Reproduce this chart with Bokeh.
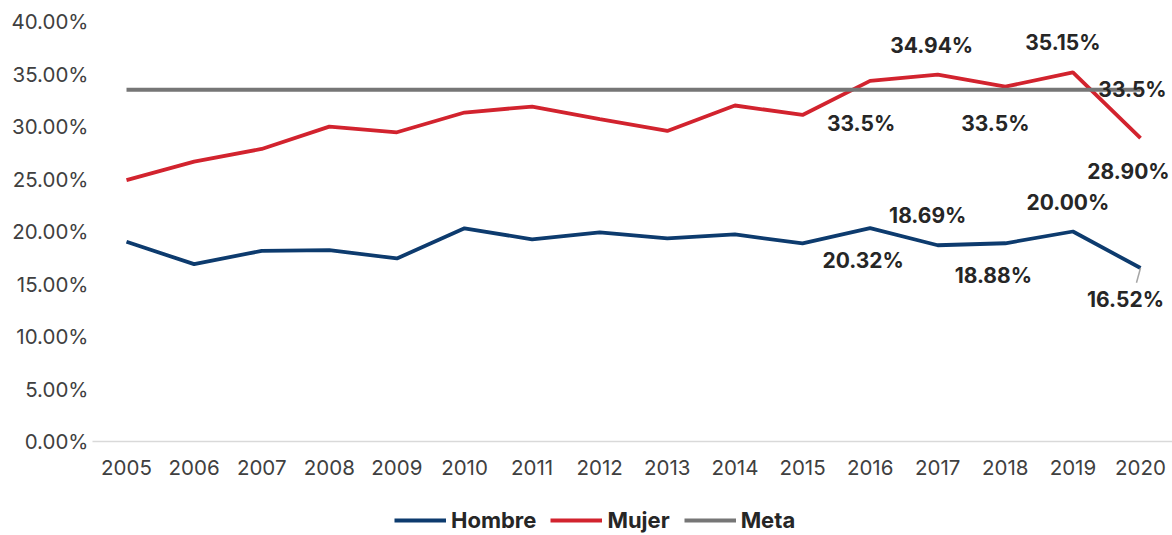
from bokeh.plotting import figure
from bokeh.layouts import column
from bokeh.models import (Range1d, Legend, LegendItem, LabelSet, ColumnDataSource,
                          NumeralTickFormatter, FixedTicker)
from bokeh.core.properties import value
from bokeh.embed import file_html
from bokeh.resources import INLINE

years = list(range(2005, 2021))
hombre = [19.02, 16.89, 18.16, 18.23, 17.43, 20.30, 19.25, 19.91, 19.34, 19.72, 18.86,
          20.32, 18.69, 18.88, 20.00, 16.52]
mujer = [24.90, 26.65, 27.86, 29.99, 29.45, 31.33, 31.90, 30.70, 29.58, 32.00, 31.10,
         34.35, 34.94, 33.80, 35.15, 28.90]
meta = [33.5] * 16
y_ticks = [0, 5, 10, 15, 20, 25, 30, 35, 40]
series_names = ["Hombre", "Mujer", "Meta"]

# data labels (text as printed on the chart)
mujer_label_years = [2016, 2017, 2018, 2019, 2020]
mujer_label_text = ["33.5%", "34.94%", "33.5%", "35.15%", "28.90%"]
hombre_label_years = [2016, 2017, 2018, 2019, 2020]
hombre_label_text = ["20.32%", "18.69%", "18.88%", "20.00%", "16.52%"]
meta_label_years = [2020]
meta_label_text = ["33.5%"]

C_H = "#0d3b6e"
C_M = "#d2232e"
C_G = "#767676"
COLORS = [C_H, C_M, C_G]
FONT = "Inter"

p = figure(width=1172, height=505, output_backend="svg", toolbar_location=None,
           x_range=Range1d(2004.497, 2020.473), y_range=Range1d(0, 0.40),
           min_border_left=92, min_border_right=0, min_border_top=21, min_border_bottom=64)
p.outline_line_color = None
p.xgrid.visible = False
p.ygrid.visible = False

frac = lambda a: [v / 100 for v in a]

p.line(years, frac(hombre), line_color=C_H, line_width=3.8)
p.line(years, frac(mujer), line_color=C_M, line_width=3.8)
p.line(years, frac(meta), line_color=C_G, line_width=3.8)

# leader line for last Hombre label
p.segment(x0=[years[-1]], y0=[hombre[-1] / 100], x1=[years[-1] - 0.06],
          y1=[hombre[-1] / 100 - 0.014], line_color="#a6a6a6", line_width=1.5)

def idx(ys):
    return [years.index(y) for y in ys]

def add_labels(lyears, texts, series, xoff, yoff):
    src = ColumnDataSource(dict(x=lyears, y=[series[i] / 100 for i in idx(lyears)],
                                t=texts, xo=xoff, yo=yoff))
    p.add_layout(LabelSet(x="x", y="y", text="t", source=src, x_offset="xo", y_offset="yo",
                          text_align="center", text_baseline="middle",
                          text_font=value(FONT), text_font_size="21px", text_color="#262626",
                          text_font_style="bold"))

add_labels(mujer_label_years, mujer_label_text, mujer,
           [-9, -6, -10, -10, -12], [-43, 29, -37, 30, -33])
add_labels(hombre_label_years, hombre_label_text, hombre,
           [-7, -10, -12, -5, -15], [-32, 30, -32, 29, -31])
add_labels(meta_label_years, meta_label_text, meta, [-8], [0])

p.yaxis.ticker = FixedTicker(ticks=[t / 100 for t in y_ticks])
p.yaxis.formatter = NumeralTickFormatter(format="0.00%")
p.yaxis.axis_line_color = None
p.yaxis.major_tick_line_color = None
p.yaxis.minor_tick_line_color = None
p.yaxis.major_tick_out = 0
p.yaxis.minor_tick_out = 0
p.yaxis.major_label_standoff = 4
p.yaxis.major_label_text_font = FONT
p.yaxis.major_label_text_font_size = "20.5px"
p.yaxis.major_label_text_color = "#404040"

p.xaxis.ticker = FixedTicker(ticks=years)
p.xaxis.axis_line_color = "#d9d9d9"
p.xaxis.axis_line_width = 1.5
p.xaxis.major_tick_line_color = None
p.xaxis.minor_tick_line_color = None
p.xaxis.major_label_standoff = 12
p.xaxis.major_label_text_font = FONT
p.xaxis.major_label_text_font_size = "20.5px"
p.xaxis.major_label_text_color = "#404040"

# legend strip below the chart (its frame is aligned with the chart frame)
lg = figure(width=1172, height=30, output_backend="svg", toolbar_location=None,
            x_range=Range1d(0, 1), y_range=Range1d(0, 1),
            x_axis_location=None, y_axis_location=None,
            min_border_left=0, min_border_right=0, min_border_top=0, min_border_bottom=0)
lg.outline_line_color = None
lg.xgrid.visible = False
lg.ygrid.visible = False
items = []
for name, col in zip(series_names, COLORS):
    # legend proxy, kept outside the visible range
    r = lg.line([-3, -2], [-3, -3], line_color=col, line_width=4)
    items.append(LegendItem(label=name, renderers=[r]))
legend = Legend(items=items, orientation="horizontal", location=(302, 2),
                glyph_width=52, glyph_height=20, label_standoff=5, spacing=14,
                padding=0, margin=0, border_line_color=None, background_fill_alpha=0,
                label_text_font=FONT, label_text_font_size="22px", label_text_color="#262626",
                label_text_font_style="bold")
lg.add_layout(legend, "center")

open("out.html", "w").write(file_html(column(p, lg, spacing=0), INLINE))
